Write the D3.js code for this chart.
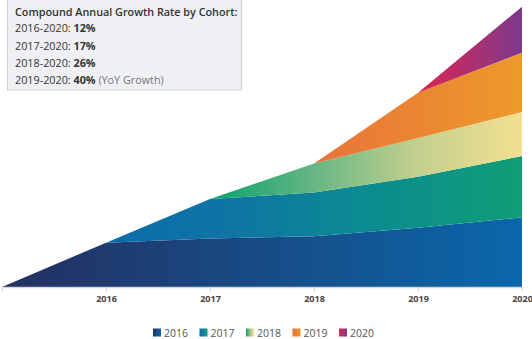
<!DOCTYPE html>
<html><head><meta charset="utf-8">
<script src="https://cdn.jsdelivr.net/npm/d3@7"></script>
<style>
html,body{margin:0;padding:0;background:#fff;}
svg{display:block;font-family:"Open Sans",sans-serif;}
</style></head>
<body><svg id="chart" width="532" height="339"></svg>
<script>
// Data (stacked cohort values per year; 2015 is the zero starting point)
const years = [2015, 2016, 2017, 2018, 2019, 2020];
const tickLabels = ["", "2016", "2017", "2018", "2019", "2020"];
const cohorts = ["2016", "2017", "2018", "2019", "2020"];
const cohort2016 = [0, 44.3, 48.5, 50.7, 59.3, 69.7];
const cohort2017 = [0, 0, 39.5, 43.8, 51.0, 61.3];
const cohort2018 = [0, 0, 0, 29.0, 38.7, 44.0];
const cohort2019 = [0, 0, 0, 0, 45.3, 59.3];
const cohort2020 = [0, 0, 0, 0, 0, 46.0];
const cagrLabels = ["2016-2020: ", "2017-2020: ", "2018-2020: ", "2019-2020: "];
const cagrValues = ["12%", "17%", "26%", "40%"];
const cagrNotes = ["", "", "", " (YoY Growth)"];
const titleText = "Compound Annual Growth Rate by Cohort:";

// Gradient colour stops per cohort (start -> end)
const gradients = [
  [["0%", "#242f60"], ["100%", "#0a68ab"]],
  [["0%", "#0b6ba9"], ["30%", "#0f75a4"], ["60%", "#0b8a92"], ["100%", "#0f9e76"]],
  [["0%", "#0aa26e"], ["30%", "#5cb482"], ["65%", "#c0cf8f"], ["100%", "#f3e090"]],
  [["0%", "#e8733a"], ["100%", "#ed9a2b"]],
  [["0%", "#df2550"], ["100%", "#7c3a8d"]]
];

const series = [cohort2016, cohort2017, cohort2018, cohort2019, cohort2020];
const table = years.map((y, i) => {
  const row = {year: y};
  cohorts.forEach((c, k) => row[c] = series[k][i]);
  return row;
});

const svg = d3.select("#chart");
const x = d3.scaleLinear().domain([2015, 2020]).range([2, 522]);
const y = d3.scaleLinear().domain([0, 287]).range([287, 0]);

const stacked = d3.stack().keys(cohorts)(table);
const defs = svg.append("defs");
const startYears = [2015, 2016, 2017, 2018, 2019];
gradients.forEach((stops, k) => {
  const g = defs.append("linearGradient").attr("id", "g" + k)
    .attr("gradientUnits", "userSpaceOnUse")
    .attr("x1", x(startYears[k])).attr("x2", x(2020)).attr("y1", 0).attr("y2", 0);
  stops.forEach(s => g.append("stop").attr("offset", s[0]).attr("stop-color", s[1]));
  const lg = defs.append("linearGradient").attr("id", "lg" + k)
    .attr("x1", 0).attr("x2", 1).attr("y1", 0).attr("y2", 0);
  stops.forEach(s => lg.append("stop").attr("offset", s[0]).attr("stop-color", s[1]));
});

const area = d3.area().x(d => x(d.data.year)).y0(d => y(d[0])).y1(d => y(d[1]));
svg.append("g").selectAll("path").data(stacked).join("path")
  .attr("d", area).attr("fill", (d, k) => `url(#g${k})`);

// axis
const axis = d3.axisBottom(x).tickValues(years).tickFormat((d, i) => tickLabels[i]).tickSize(4).tickSizeOuter(0);
const ax = svg.append("g").attr("transform", "translate(0,287)").call(axis);
ax.select(".domain").attr("stroke", "#d6d6d6").attr("stroke-width", 1.5);
ax.selectAll(".tick line").attr("stroke", "#d6d6d6");
ax.selectAll(".tick text").attr("fill", "#444").attr("font-size", 9).attr("font-weight", "bold")
  .attr("font-family", "'Open Sans', sans-serif").attr("dy", "0.9em");

// info box
const box = svg.append("g");
box.append("rect").attr("x", 7.5).attr("y", -1).attr("width", 234).attr("height", 91)
  .attr("fill", "#eef0f3").attr("stroke", "#cfd2d6");
box.append("text").attr("x", 15).attr("y", 15.5).attr("font-size", 10.8).attr("font-weight", 600)
  .attr("fill", "#333").text(titleText);
cagrLabels.forEach((l, i) => {
  const t = box.append("text").attr("x", 15).attr("y", 32.3 + i * 17.2).attr("font-size", 10.8).attr("fill", "#333");
  t.append("tspan").text(l);
  t.append("tspan").attr("font-weight", "bold").text(cagrValues[i]);
  if (cagrNotes[i]) t.append("tspan").attr("fill", "#777").text(cagrNotes[i]);
});

// legend
const leg = svg.append("g").attr("transform", "translate(153,328.5)");
cohorts.forEach((c, k) => {
  const g = leg.append("g").attr("transform", `translate(${k * 46.5},0)`);
  g.append("rect").attr("width", 8).attr("height", 8).attr("fill", `url(#lg${k})`);
  g.append("text").attr("x", 11).attr("y", 8).attr("font-size", 10.5).attr("fill", "#555").text(c);
});
</script></body></html>
